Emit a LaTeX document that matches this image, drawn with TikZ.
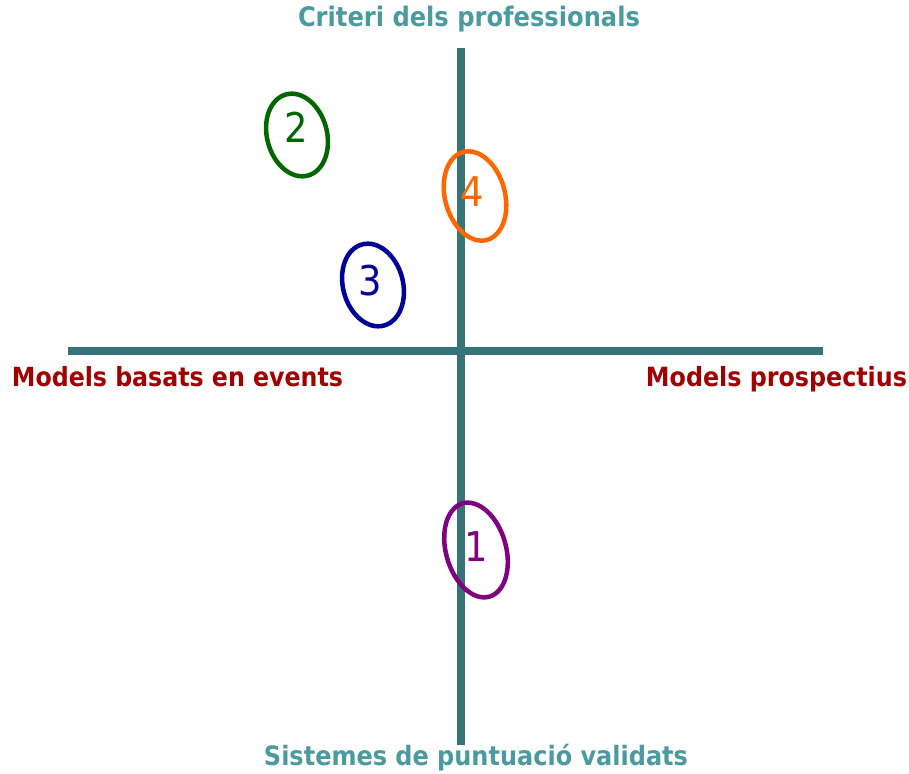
\documentclass[tikz,border=0pt]{standalone}
\usepackage{fontspec}
\setmainfont{DejaVu Sans Condensed}
\usepackage{graphicx}
\definecolor{axisc}{RGB}{54,116,122}
\definecolor{tealtxt}{RGB}{74,154,160}
\definecolor{redtxt}{RGB}{160,0,0}
\definecolor{c1}{RGB}{128,0,128}
\definecolor{c2}{RGB}{0,102,0}
\definecolor{c3}{RGB}{0,0,153}
\definecolor{c4}{RGB}{255,102,0}
\begin{document}
\begin{tikzpicture}[x=1pt,y=1pt,
  axisline/.style={draw=axisc,line width=8.5pt},
  lbl/.style={inner sep=0pt,anchor=base,font=\bfseries},
  ring/.style={line width=4.5pt},
  num/.style={inner sep=0pt,anchor=base,font=\fontsize{41}{41}\selectfont}]
\useasboundingbox (0,0) rectangle (909,773);
% axes
\coordinate (vt) at (461,725);
\coordinate (vb) at (461,28);
\coordinate (hl) at (68,422);
\coordinate (hr) at (823,422);
\draw[axisline] (vt) -- (vb);
\draw[axisline] (hl) -- (hr);
% labels
\node[lbl,text=tealtxt] (top) at (469,746) {\resizebox{342pt}{!}{Criteri dels professionals}};
\node[lbl,text=tealtxt] (bot) at (476,8) {\resizebox{424pt}{!}{Sistemes de puntuació validats}};
\node[lbl,text=redtxt] (left) at (177.5,386) {\resizebox{331pt}{!}{Models basats en events}};
\node[lbl,text=redtxt] (right) at (776.5,386) {\resizebox{261pt}{!}{Models prospectius}};
% ellipses
\draw[ring,draw=c2] (297,638) ellipse [x radius=30pt, y radius=42pt, rotate=15];
\draw[ring,draw=c4] (475,577) ellipse [x radius=30pt, y radius=45.5pt, rotate=15];
\draw[ring,draw=c3] (373,488) ellipse [x radius=30pt, y radius=42pt, rotate=15];
\draw[ring,draw=c1] (476,223) ellipse [x radius=30pt, y radius=48.5pt, rotate=16];
% numbers
\node[num,text=c2] (n2) at (296,630) {2};
\node[num,text=c4] (n4) at (472,566) {4};
\node[num,text=c3] (n3) at (370,477) {3};
\node[num,text=c1] (n1) at (476,211) {1};
\end{tikzpicture}
\end{document}
